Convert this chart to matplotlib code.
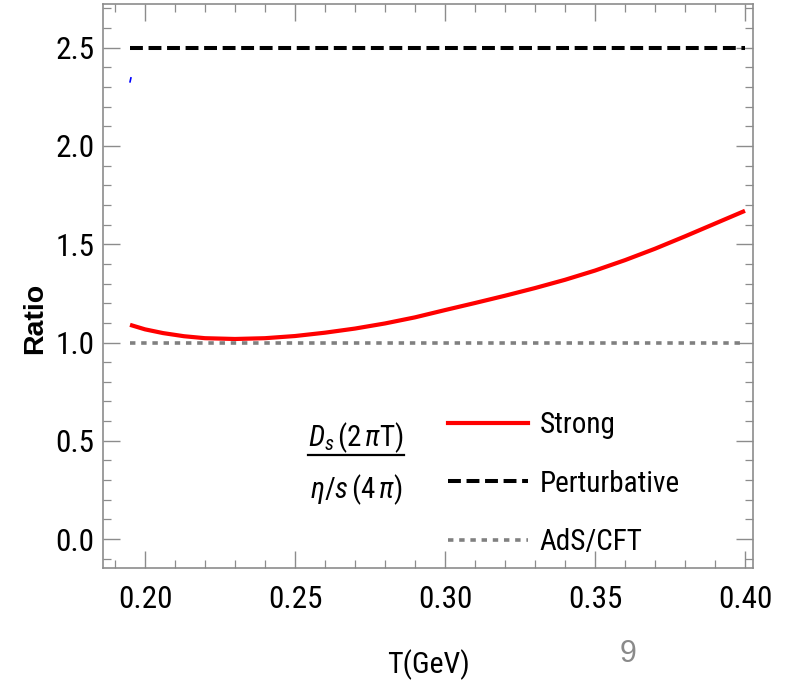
import numpy as np
import matplotlib
matplotlib.use("Agg")
import matplotlib.pyplot as plt
from matplotlib import font_manager as fm
from matplotlib.lines import Line2D
from matplotlib.ticker import MultipleLocator, FormatStrFormatter

# data
T_strong = [0.195, 0.200, 0.206, 0.213, 0.220, 0.230, 0.240, 0.250, 0.260, 0.270,
            0.280, 0.290, 0.300, 0.310, 0.320, 0.330, 0.340, 0.350, 0.360, 0.370,
            0.380, 0.390, 0.400]
ratio_strong = [1.090, 1.067, 1.048, 1.032, 1.022, 1.018, 1.022, 1.033, 1.050, 1.071,
                1.097, 1.128, 1.165, 1.201, 1.238, 1.277, 1.319, 1.366, 1.419, 1.477,
                1.540, 1.605, 1.670]
T_flat = [0.195, 0.400]
ratio_pert = [2.5, 2.5]
ratio_ads = [1.0, 1.0]
T_blue = [0.1950, 0.1953]
ratio_blue = [2.326, 2.346]

# look for a narrow sans font (the original uses a condensed Helvetica look)
narrow = [f for f in fm.fontManager.ttflist
          if ('narrow' in f.fname.lower() or 'condensed' in f.fname.lower())
          and 'bold' not in f.fname.lower() and 'italic' not in f.fname.lower()
          and 'oblique' not in f.fname.lower() and 'light' not in f.fname.lower()]
narrow.sort(key=lambda f: (0 if 'Liberation' in f.name else 1 if 'Roboto' in f.name else 2))
if narrow:
    nfile = narrow[0].fname
    nname = narrow[0].name
else:
    nfile = None
    nname = 'DejaVu Sans'


def nprop(size):
    if nfile:
        return fm.FontProperties(fname=nfile, size=size)
    return fm.FontProperties(family='DejaVu Sans', size=size)


def pprop(size, weight='normal'):
    return fm.FontProperties(family=['Liberation Sans', 'DejaVu Sans'],
                             stretch='normal', weight=weight, size=size)


plt.rcParams['font.family'] = [nname, 'DejaVu Sans']
plt.rcParams['mathtext.fontset'] = 'custom'
plt.rcParams['mathtext.rm'] = nname
plt.rcParams['mathtext.it'] = nname + ':italic'

gray = '#8c8c8c'

fig = plt.figure(figsize=(7.87, 6.87), dpi=100)
ax = fig.add_axes([0.1309, 0.1732, 0.826, 0.8210])

ax.plot(T_strong, ratio_strong, color='#ff0000', lw=3.0, solid_capstyle='butt')
ax.plot(T_flat, ratio_pert, color='black', lw=2.9, linestyle=(0, (3.2, 1.4)),
        dash_capstyle='butt')
ax.plot(T_flat, ratio_ads, color='#808080', lw=2.6, linestyle=(0, (1.5, 1.6)),
        dash_capstyle='butt')
ax.plot(T_blue, ratio_blue, color='blue', lw=1.2)

ax.set_xlim(0.186, 0.4027)
ax.set_ylim(-0.147, 2.722)

ax.xaxis.set_major_locator(MultipleLocator(0.05))
ax.xaxis.set_minor_locator(MultipleLocator(0.01))
ax.yaxis.set_major_locator(MultipleLocator(0.5))
ax.yaxis.set_minor_locator(MultipleLocator(0.1))
ax.xaxis.set_major_formatter(FormatStrFormatter('%.2f'))
ax.yaxis.set_major_formatter(FormatStrFormatter('%.1f'))

ax.tick_params(which='both', direction='in', top=True, right=True, color=gray,
               labelcolor='black')
ax.tick_params(which='major', length=12, width=1.0, pad=6)
ax.tick_params(which='minor', length=6, width=0.9)
ax.tick_params(axis='x', which='major', pad=12)
for lab in ax.get_xticklabels() + ax.get_yticklabels():
    lab.set_fontproperties(nprop(22.5))
for s in ax.spines.values():
    s.set_color(gray)
    s.set_linewidth(1.2)

fig.text(0.044, 1 - 318 / 687, 'Ratio', rotation=90, ha='center', va='center',
         fontproperties=pprop(20.5, 'bold'))
fig.text(428 / 787, 1 - 665 / 687, 'T(GeV)', ha='center', va='center',
         fontproperties=nprop(21.5))
fig.text(628 / 787, 1 - 654 / 687, '9', ha='center', va='center', color='#8a8a8a',
         fontproperties=pprop(22))

# fraction label
fig.text(356 / 787, 1 - 438 / 687, r'$D_s\,(2\,\pi\mathrm{T})$', ha='center',
         va='center', fontsize=21)
fig.add_artist(Line2D([308 / 787, 404 / 787], [1 - 455 / 687, 1 - 455 / 687],
                      color='black', lw=1.6))
fig.text(356 / 787, 1 - 490 / 687, r'$\eta/s\,(4\,\pi)$', ha='center',
         va='center', fontsize=21)

handles = [
    Line2D([], [], color='#ff0000', lw=3.0),
    Line2D([], [], color='black', lw=2.9, linestyle=(0, (3.2, 1.4)), dash_capstyle='butt'),
    Line2D([], [], color='#808080', lw=2.6, linestyle=(0, (1.5, 1.6)), dash_capstyle='butt'),
]
leg = fig.legend(handles, ['Strong', 'Perturbative', 'AdS/CFT'],
                 loc='upper left', bbox_to_anchor=(448 / 787, 1 - 411 / 687),
                 frameon=False, prop=nprop(21), handlelength=2.75,
                 handletextpad=0.4, labelspacing=1.05, borderpad=0, borderaxespad=0)

fig.savefig('out.png', dpi=100)
